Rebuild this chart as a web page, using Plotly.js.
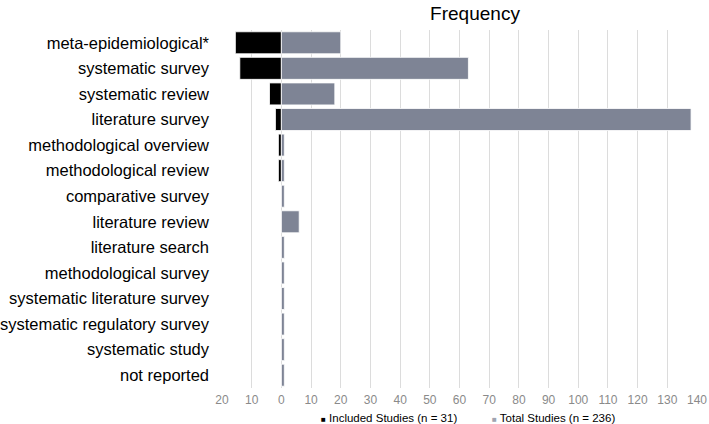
<!DOCTYPE html>
<html>
<head>
<meta charset="utf-8">
<script src="https://cdn.plot.ly/plotly-3.0.1.min.js"></script>
<style>html,body{margin:0;padding:0;background:#fff;}#chart{width:709px;height:424px;}</style>
</head>
<body>
<div id="chart"></div>
<script>
const categories = [
  "meta-epidemiological*",
  "systematic survey",
  "systematic review",
  "literature survey",
  "methodological overview",
  "methodological review",
  "comparative survey",
  "literature review",
  "literature search",
  "methodological survey",
  "systematic literature survey",
  "systematic regulatory survey",
  "systematic study",
  "not reported"
];
const includedStudies = [15.5, 14, 4, 2, 1, 1, 0, 0, 0, 0, 0, 0, 0, 0];
const totalStudies = [20, 63, 18, 138, 1, 1, 1, 6, 1, 1, 1, 1, 1, 1];
const tickValues = [-20, -10, 0, 10, 20, 30, 40, 50, 60, 70, 80, 90, 100, 110, 120, 130, 140];
const tickLabels = ["20", "10", "0", "10", "20", "30", "40", "50", "60", "70", "80", "90", "100", "110", "120", "130", "140"];
const legendNames = ["Included Studies (n = 31)", "Total Studies (n = 236)"];

const colors = ["#000000", "#7e8495"];
const legendSquareColors = ["#000000", "#a0a4b0"];

const traces = [
  {
    type: "bar", orientation: "h", y: categories,
    x: includedStudies.map(v => -v),
    name: legendNames[0],
    marker: {color: colors[0], line: {color: "#ffffff", width: 0.8}},
    showlegend: false, hoverinfo: "skip"
  },
  {
    type: "bar", orientation: "h", y: categories,
    x: totalStudies,
    name: legendNames[1],
    marker: {color: colors[1], line: {color: "#ffffff", width: 0.8}},
    showlegend: false, hoverinfo: "skip"
  }
];

const legendAnnotations = [
  {x: 319 / 709, name: legendNames[0], color: legendSquareColors[0]},
  {x: 490 / 709, name: legendNames[1], color: legendSquareColors[1]}
].map(item => ({
  xref: "paper", yref: "paper",
  x: (item.x * 709 - 222) / (709 - 222 - 12),
  y: -(418 - 388) / 358,
  xanchor: "left", yanchor: "middle",
  showarrow: false,
  text: '<span style="color:' + item.color + ';font-size:8px">■</span> ' + item.name,
  font: {size: 11.5, color: "#000"}
}));

const layout = {
  width: 709, height: 424,
  margin: {l: 222, r: 12, t: 30, b: 36, autoexpand: false},
  paper_bgcolor: "#ffffff", plot_bgcolor: "#ffffff",
  barmode: "relative",
  bargap: 0.14,
  font: {family: "Liberation Sans, Arial, sans-serif", color: "#000"},
  title: {
    text: "Frequency",
    font: {size: 19, color: "#000"},
    x: 475 / 709, xref: "container", xanchor: "center",
    y: 1 - 13 / 424, yref: "container", yanchor: "middle"
  },
  xaxis: {
    range: [-20, 140],
    tickmode: "array", tickvals: tickValues, ticktext: tickLabels,
    showgrid: true, gridcolor: "#dcdcdc", gridwidth: 1,
    zeroline: false, showline: false, ticks: "",
    ticklabelstandoff: 3,
    tickfont: {size: 12, color: "#8a8a8a"},
    automargin: false,
    fixedrange: true
  },
  yaxis: {
    type: "category", categoryorder: "array", categoryarray: categories,
    autorange: "reversed",
    showgrid: false, zeroline: false, showline: false, ticks: "",
    ticklabelstandoff: 12,
    tickfont: {size: 16.5, color: "#000"},
    automargin: false,
    fixedrange: true
  },
  showlegend: false,
  annotations: legendAnnotations
};

Plotly.newPlot("chart", traces, layout, {staticPlot: true, displayModeBar: false});
</script>
</body>
</html>
